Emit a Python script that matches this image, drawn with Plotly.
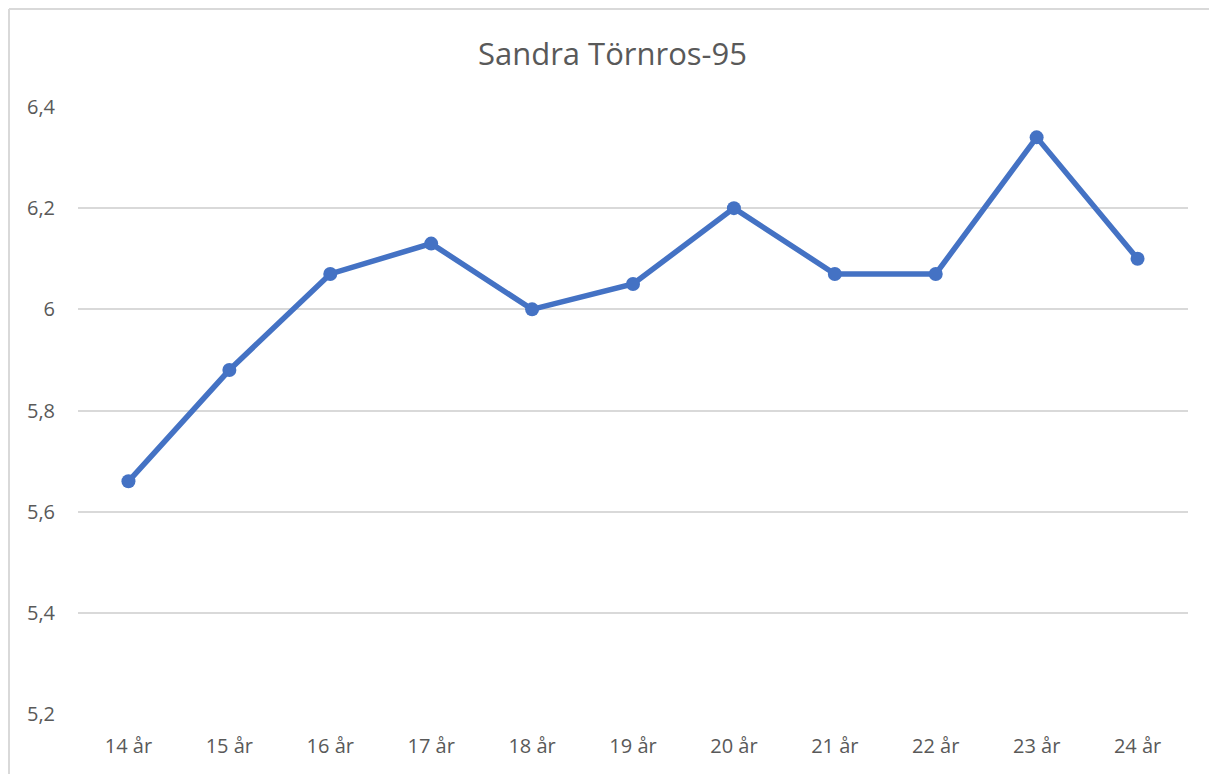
import plotly.graph_objects as go

categories = ["14 år", "15 år", "16 år", "17 år", "18 år", "19 år", "20 år", "21 år", "22 år", "23 år", "24 år"]
values = [5.66, 5.88, 6.07, 6.13, 6.00, 6.05, 6.20, 6.07, 6.07, 6.34, 6.10]
y_tickvals = [5.2, 5.4, 5.6, 5.8, 6.0, 6.2, 6.4]
y_ticktext = ["5,2", "5,4", "5,6", "5,8", "6", "6,2", "6,4"]
title_text = "Sandra Törnros-95"

# the page body adds an 8px offset, so the figure is sized to fit the window
W, H = 1209, 766
L, R, T, B = 70, 29, 99, 60

fig = go.Figure()
fig.add_trace(go.Scatter(
    x=categories, y=values, mode="lines+markers",
    line=dict(color="#4472C4", width=5.5),
    marker=dict(color="#4472C4", size=14),
    showlegend=False, cliponaxis=False,
))

pw = W - L - R
ph = H - T - B
# chart frame (top & left edges visible)
x0 = (1 - L) / pw
y1 = (H - B - 1) / ph
fig.add_shape(type="line", xref="paper", yref="paper", x0=x0, x1=(W + 50 - L) / pw, y0=y1, y1=y1,
              line=dict(color="#D9D9D9", width=2))
fig.add_shape(type="line", xref="paper", yref="paper", x0=x0, x1=x0, y0=y1, y1=-1,
              line=dict(color="#D9D9D9", width=2))

font = "Open Sans, Noto Sans, sans-serif"
fig.update_layout(
    width=W, height=H,
    margin=dict(l=L, r=R, t=T, b=B),
    paper_bgcolor="white", plot_bgcolor="white",
    title=dict(text=title_text, x=0.5, xanchor="center", y=1 - 46 / H, yanchor="middle",
               font=dict(family=font, size=31, color="#595959")),
    font=dict(family=font, color="#595959", size=20),
    xaxis=dict(type="category", range=[-0.5, len(categories) - 0.5], showgrid=False,
               showline=False, zeroline=False, ticks="", ticklabelstandoff=18,
               tickfont=dict(size=20, color="#595959")),
    yaxis=dict(range=[5.2, 6.4], tickvals=y_tickvals, ticktext=y_ticktext,
               showgrid=True, gridcolor="#D9D9D9", gridwidth=1.5, zeroline=False,
               showline=False, ticks="", ticklabelstandoff=22,
               tickfont=dict(size=20, color="#595959")),
)
fig.write_html("out.html")
